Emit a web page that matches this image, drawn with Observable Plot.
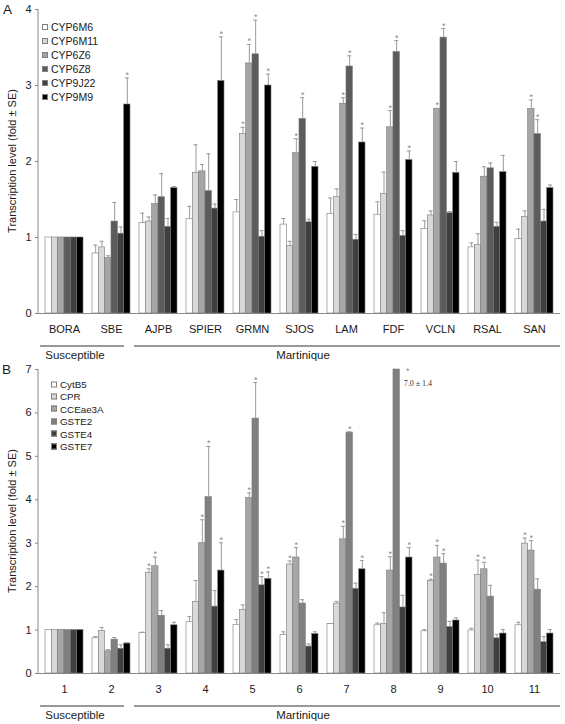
<!DOCTYPE html>
<html>
<head>
<meta charset="utf-8">
<script src="https://cdn.jsdelivr.net/npm/d3@7"></script>
<script src="https://cdn.jsdelivr.net/npm/@observablehq/plot@0.6"></script>
<style>
  body { margin: 0; background: #fff; font-family: "Liberation Sans", Arial, sans-serif; color: #1a1a1a; }
  #wrap { position: relative; width: 565px; height: 724px; overflow: hidden; }
  .panel { position: absolute; left: 0; }
  .tag { position: absolute; font-size: 13.5px; line-height: 1; }
  .ylab { position: absolute; font-size: 11px; white-space: nowrap; transform: translate(-50%, -50%) rotate(-90deg); }
  .legend { position: absolute; }
  .legend .row { position: absolute; left: 0; white-space: nowrap; display: flex; align-items: center; transform: translateY(-50%); }
  .legend .sw { display: inline-block; box-sizing: border-box; width: 6px; height: 6px; border: 0.7px solid #808080; margin-right: 3px; }
</style>
</head>
<body>
<div id="wrap"></div>
<script>
// ---------------- Panel A data ----------------
const groupsA = ["BORA", "SBE", "AJPB", "SPIER", "GRMN", "SJOS", "LAM", "FDF", "VCLN", "RSAL", "SAN"];
const seriesA = ["CYP6M6", "CYP6M11", "CYP6Z6", "CYP6Z8", "CYP9J22", "CYP9M9"];
const colorsA = ["#ffffff", "#d9d9d9", "#a6a6a6", "#5c5c5c", "#3f3f3f", "#000000"];
const CYP6M6 = [1, 0.79, 1.19, 1.24, 1.33, 1.17, 1.31, 1.30, 1.11, 0.87, 0.98];
const CYP6M6_se = [0, 0.11, 0.13, 0.17, 0.17, 0.08, 0.21, 0.17, 0.11, 0.06, 0.13];
const CYP6M11 = [1, 0.87, 1.21, 1.85, 2.36, 0.89, 1.53, 1.57, 1.29, 0.90, 1.27];
const CYP6M11_se = [0, 0.08, 0.06, 0.37, 0.09, 0.06, 0.11, 0.29, 0.06, 0.15, 0.08];
const CYP6Z6 = [1, 0.73, 1.44, 1.87, 3.29, 2.11, 2.76, 2.45, 2.69, 1.80, 2.69];
const CYP6Z6_se = [0, 0.03, 0.12, 0.09, 0.25, 0.19, 0.08, 0.22, 0.01, 0.13, 0.12];
const CYP6Z8 = [1, 1.21, 1.53, 1.61, 3.41, 2.56, 3.25, 3.44, 3.63, 1.91, 2.36];
const CYP6Z8_se = [0, 0.25, 0.31, 0.49, 0.45, 0.28, 0.14, 0.15, 0.12, 0.07, 0.19];
const CYP9J22 = [1, 1.05, 1.14, 1.38, 1.01, 1.20, 0.97, 1.02, 1.32, 1.14, 1.21];
const CYP9J22_se = [0, 0.09, 0.11, 0.06, 0.08, 0.04, 0.07, 0.07, 0.02, 0.06, 0.16];
const CYP9M9 = [1, 2.75, 1.65, 3.06, 3.00, 1.93, 2.25, 2.02, 1.85, 1.86, 1.65];
const CYP9M9_se = [0, 0.35, 0.02, 0.58, 0.15, 0.07, 0.19, 0.12, 0.15, 0.22, 0.04];
const starsA = [
  [],
  ["GRMN"],
  ["GRMN", "SJOS", "LAM", "FDF", "VCLN", "SAN"],
  ["GRMN", "SJOS", "LAM", "FDF", "VCLN", "SAN"],
  [],
  ["SBE", "SPIER", "GRMN", "LAM", "FDF"]
];
const ticksA = [0, 1, 2, 3, 4];

// ---------------- Panel B data ----------------
const groupsB = ["1", "2", "3", "4", "5", "6", "7", "8", "9", "10", "11"];
const seriesB = ["CytB5", "CPR", "CCEae3A", "GSTE2", "GSTE4", "GSTE7"];
const colorsB = ["#ffffff", "#d9d9d9", "#a6a6a6", "#808080", "#404040", "#000000"];
const CytB5 = [1, 0.81, 0.93, 1.18, 1.12, 0.89, 1.14, 1.11, 0.97, 0.99, 1.11];
const CytB5_se = [0, 0.04, 0.02, 0.13, 0.12, 0.07, 0.01, 0.05, 0.04, 0.05, 0.07];
const CPR = [1, 0.98, 2.32, 1.65, 1.46, 2.51, 1.61, 1.14, 2.13, 2.27, 2.99];
const CPR_se = [0, 0.08, 0.09, 0.49, 0.12, 0.08, 0.05, 0.26, 0.04, 0.34, 0.13];
const CCEae3A = [1, 0.51, 2.47, 3.00, 4.04, 2.67, 3.09, 2.37, 2.67, 2.40, 2.83];
const CCEae3A_se = [0, 0.04, 0.21, 0.54, 0.12, 0.23, 0.30, 0.32, 0.28, 0.16, 0.23];
const GSTE2 = [1, 0.78, 1.33, 4.06, 5.87, 1.61, 5.55, 7.0, 2.53, 1.77, 1.93];
const GSTE2_se = [0, 0.05, 0.12, 1.17, 0.83, 0.09, 0.01, 1.4, 0.23, 0.26, 0.25];
const GSTE4 = [1, 0.57, 0.57, 1.54, 2.03, 0.62, 1.95, 1.52, 1.07, 0.81, 0.72];
const GSTE4_se = [0, 0.09, 0.09, 0.37, 0.20, 0.06, 0.13, 0.28, 0.13, 0.09, 0.13];
const GSTE7 = [1, 0.69, 1.11, 2.37, 2.18, 0.91, 2.40, 2.67, 1.22, 0.92, 0.92];
const GSTE7_se = [0, 0.02, 0.07, 0.64, 0.16, 0.05, 0.20, 0.23, 0.06, 0.09, 0.09];
const starsB = [
  [],
  ["3", "6", "9", "10", "11"],
  ["3", "4", "5", "6", "7", "8", "9", "10", "11"],
  ["4", "5", "7", "8", "9"],
  ["5"],
  ["4", "5", "7", "8"]
];
const ticksB = [0, 1, 2, 3, 4, 5, 6, 7];

const yLabel = "Transcription level (fold \u00b1 SE)";
const popLabels = ["Susceptible", "Martinique"];

// ---------------- drawing ----------------
const W = 565, ML = 38, MR = 5, PI = 0.2, PO = 0.1;
const AXIS = "#8a8a8a";
const wrap = document.getElementById("wrap");

function buildPanel(cfg) {
  const {groups, series, values, ses, stars, colors, ticks, height, mt, mb, top} = cfg;
  const yMax = ticks[ticks.length - 1];
  const n = groups.length, k = series.length;
  const step = (W - ML - MR) / (n - PI + 2 * PO);
  const bw = step * (1 - PI), sub = bw / k;
  const marks = [Plot.ruleY([0], {stroke: AXIS, strokeWidth: 1})];
  series.forEach((s, j) => {
    const rows = groups.map((g, i) => ({
      group: g, value: values[j][i], se: ses[j][i],
      top: values[j][i] + ses[j][i], star: stars[j].includes(g)
    }));
    const dx = (j - (k - 1) / 2) * sub;
    marks.push(Plot.barY(rows, {
      x: "group", y: "value", fill: colors[j], stroke: "#7a7a7a", strokeWidth: 0.6,
      insetLeft: j * sub, insetRight: (k - 1 - j) * sub
    }));
    const eb = rows.filter(r => r.se > 0 && r.top <= yMax);
    marks.push(Plot.ruleX(eb, {x: "group", y1: "value", y2: "top", dx, stroke: "#9a9a9a", strokeWidth: 1}));
    marks.push(Plot.tickY(eb, {x: "group", y: "top", dx, stroke: "#9a9a9a", strokeWidth: 1, insetLeft: bw / 2 - 2, insetRight: bw / 2 - 2}));
    marks.push(Plot.text(rows.filter(r => r.star && r.top <= yMax), {
      x: "group", y: "top", dx, text: () => "*", lineAnchor: "bottom", fontSize: 9, fill: "#8a8a8a"
    }));
    const over = rows.filter(r => r.top > yMax);
    marks.push(Plot.text(over.filter(r => r.star), {
      x: "group", y: () => yMax, dx: dx + 11, dy: 4, text: () => "*", lineAnchor: "bottom", fontSize: 9, fill: "#8a8a8a"
    }));
    marks.push(Plot.text(over, {
      x: "group", y: () => yMax, dx: dx + 7, dy: 14, textAnchor: "start",
      text: r => `${r.value.toFixed(1)} \u00b1 ${r.se.toFixed(1)}`,
      fontFamily: "'Liberation Serif', 'Times New Roman', serif", fontSize: 8, fill: "#333"
    }));
  });

  const plot = Plot.plot({
    width: W, height, marginTop: mt, marginBottom: mb, marginLeft: ML, marginRight: MR,
    style: {fontFamily: "'Liberation Sans', Arial, sans-serif", fontSize: "11px", color: "#1a1a1a", background: "transparent", overflow: "visible"},
    x: {domain: groups, paddingInner: PI, paddingOuter: PO, tickSize: 0, tickPadding: 12, label: null},
    y: {domain: [0, yMax], ticks, tickSize: 3, tickPadding: 4, label: null, tickFormat: d3.format("d")},
    marks
  });

  const svg = d3.select(plot);
  svg.selectAll('[aria-label="y-axis tick"]').attr("stroke", AXIS);
  const y0 = height - mb;
  svg.append("line").attr("x1", ML).attr("x2", ML).attr("y1", mt).attr("y2", y0)
    .attr("stroke", AXIS).attr("stroke-width", 1);

  // population brackets, placed from the x scale
  const xs = plot.scale("x");
  const start = g => xs.apply(g);
  const center = g => xs.apply(g) + xs.bandwidth / 2;
  const brY = y0 + 33, txY = y0 + 42;
  const br = [
    {x1: start(groups[0]) - 5, x2: start(groups[1]) + xs.bandwidth - 6, tx: center(groups[0]) + 11, label: popLabels[0]},
    {x1: start(groups[2]) - 5, x2: W - MR, tx: center(groups[5]) + 4, label: popLabels[1]}
  ];
  br.forEach(b => {
    svg.append("line").attr("x1", b.x1).attr("x2", b.x2).attr("y1", brY).attr("y2", brY)
      .attr("stroke", "#333").attr("stroke-width", 1);
    svg.append("text").attr("x", b.tx).attr("y", txY).attr("text-anchor", "middle")
      .attr("dominant-baseline", "central").attr("font-size", 11.5).attr("fill", "#1a1a1a").text(b.label);
  });

  const div = document.createElement("div");
  div.className = "panel";
  div.style.top = top + "px";
  div.appendChild(plot);
  wrap.appendChild(div);
}

function addLegend(series, colors, left, top, rowStep, fontSize) {
  const lg = document.createElement("div");
  lg.className = "legend";
  lg.style.left = left + "px";
  lg.style.top = top + "px";
  lg.style.fontSize = fontSize + "px";
  series.forEach((s, i) => {
    const row = document.createElement("div");
    row.className = "row";
    row.style.top = (i * rowStep) + "px";
    const sw = document.createElement("span");
    sw.className = "sw";
    sw.style.background = colors[i];
    row.appendChild(sw);
    row.appendChild(document.createTextNode(s));
    lg.appendChild(row);
  });
  wrap.appendChild(lg);
}

function addText(cls, text, left, top) {
  const d = document.createElement("div");
  d.className = cls;
  d.style.left = left + "px";
  d.style.top = top + "px";
  d.textContent = text;
  wrap.appendChild(d);
}

buildPanel({
  groups: groupsA, series: seriesA,
  values: [CYP6M6, CYP6M11, CYP6Z6, CYP6Z8, CYP9J22, CYP9M9],
  ses: [CYP6M6_se, CYP6M11_se, CYP6Z6_se, CYP6Z8_se, CYP9J22_se, CYP9M9_se],
  stars: starsA, colors: colorsA, ticks: ticksA,
  height: 362, mt: 9, mb: 49, top: 0
});
buildPanel({
  groups: groupsB, series: seriesB,
  values: [CytB5, CPR, CCEae3A, GSTE2, GSTE4, GSTE7],
  ses: [CytB5_se, CPR_se, CCEae3A_se, GSTE2_se, GSTE4_se, GSTE7_se],
  stars: starsB, colors: colorsB, ticks: ticksB,
  height: 362, mt: 7, mb: 51, top: 362
});

addLegend(seriesA, colorsA, 42, 27, 13.9, 10.5);
addLegend(seriesB, colorsB, 51, 384, 12.4, 9.8);
addText("tag", "A", 3, 3);
addText("tag", "B", 2, 363);
addText("ylab", yLabel, 12, 161);
addText("ylab", yLabel, 12, 521);
</script>
</body>
</html>
